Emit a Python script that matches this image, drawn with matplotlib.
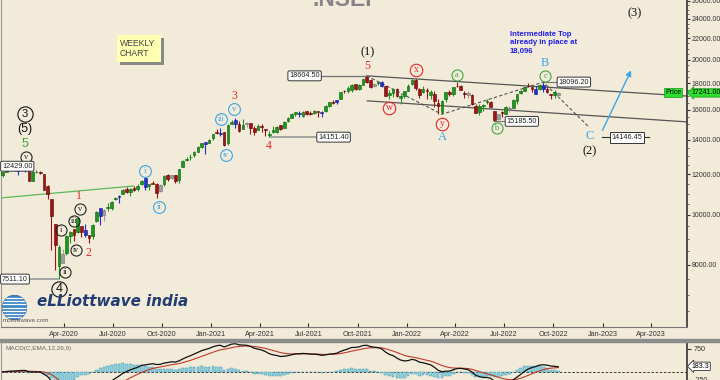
import matplotlib
matplotlib.use('Agg')
import matplotlib.pyplot as plt
import matplotlib.dates as mdates
import matplotlib.transforms as mtransforms
from matplotlib.patches import Rectangle, Circle
from matplotlib.ticker import FixedLocator, NullFormatter
import numpy as np
import pandas as pd

# weekly bars of .NSEI, first week starting 2019-12-09
first_week = '2019-12-09'
opens = [11934, 12132, 12235, 12247, 12170, 12296, 12384, 12198, 11627, 12102, 12131, 12013,
         11387, 10742, 9587, 7945, 8385, 8446, 9103, 9390, 9259, 9533, 9348, 9158, 9100,
         9726, 10326, 10014, 10318, 10311, 10723, 10851, 10999, 11225, 11065, 11270, 11248,
         11472, 11777, 11355, 11540, 11503, 11141, 11487, 11973, 11786, 11937, 11697, 12400,
         12780, 12960, 13062, 13264, 13547, 13865, 13815, 14104, 14474, 14371, 14477, 13758,
         14999, 15260, 15009, 14702, 15064, 15049, 14736, 14628, 14837, 14644, 14306, 14449,
         14481, 14928, 14756, 15211, 15437, 15725, 15791, 15525, 15915, 15794, 15766, 15877,
         15840, 15874, 16259, 16564, 16592, 16775, 17400, 17363, 17443, 17962, 17531, 17867,
         18500, 18229, 17783, 18040, 18141, 17796, 17055, 17209, 17529, 16824, 17000, 17388,
         17913, 18236, 17575, 17302, 17456, 17076, 17193, 16515, 15867, 16757, 17329, 17181,
         17809, 17741, 17183, 17202, 17097, 16227, 15845, 16290, 16578, 16570, 15877, 15335,
         15839, 15710, 16152, 16151, 16662, 17243, 17402, 17797, 17682, 17188, 17546, 17890,
         17541, 17157, 17102, 17094]
highs = [12098, 12294, 12287, 12311, 12337, 12390, 12429, 12212, 12160, 12247, 12159, 12013,
         11433, 10751, 9602, 8749, 8576, 9131, 9324, 9390, 9890, 9533, 9584, 9158, 9599,
         10177, 10328, 10272, 10554, 10631, 10847, 10933, 11225, 11341, 11256, 11374, 11460,
         11686, 11794, 11493, 11618, 11535, 11463, 11939, 12025, 11975, 11942, 12290, 12770,
         12963, 13145, 13280, 13579, 13773, 13866, 14024, 14367, 14654, 14754, 14491, 14976,
         15257, 15432, 15176, 15336, 15152, 15079, 14878, 14984, 14984, 14697, 14526, 14891,
         14863, 14967, 15189, 15469, 15733, 15835, 15901, 15915, 15928, 15915, 15962, 15881,
         15899, 16349, 16543, 16701, 16722, 17340, 17437, 17793, 17947, 17962, 17941, 18351,
         18604.5, 18310, 18012, 18123, 18210, 17805, 17489, 17640, 17640, 17119, 17400, 17944,
         18350, 18321, 17600, 17781, 17640, 17490, 17351, 16815, 16694, 17345, 17442, 17703,
         18115, 17842, 17415, 17400, 17132, 16404, 16400, 16414, 16793, 16610, 15886, 15707,
         15890, 16276, 16275, 16752, 17173, 17490, 17720, 17992, 17685, 17777, 17925, 18096.2,
         17723, 17176, 17428, 17280]
lows = [11833, 12113, 12180, 12171, 11974, 12253, 12087, 11634, 11614, 12037, 12003, 11175,
        10751, 8555, 7832, 7511.1, 8055, 8360, 8822, 8909, 9243, 9044, 9043, 8807, 8968,
        9706, 9544, 9728, 10194, 10223, 10675, 10562, 10993, 11026, 10882, 11112, 11144,
        11426, 11185, 11185, 11465, 10790, 11101, 11386, 11661, 11741, 11535, 11557, 12367,
        12730, 12790, 12962, 13215, 13501, 13132, 13765, 13954, 14357, 14222, 13597, 13662,
        14978, 14736, 14468, 14702, 14813, 14350, 14265, 14628, 14459, 14248, 14151.4, 14418,
        14416, 14592, 14756, 15158, 15437, 15566, 15450, 15505, 15636, 15632, 15707, 15514,
        15513, 15834, 16161, 16396, 16395, 16764, 17254, 17269, 17327, 17452, 17452, 17865,
        18034, 17614, 17697, 17836, 17688, 16985, 16782, 16892, 16966, 16410, 16833, 17383,
        17880, 17500, 16837, 17244, 16810, 16809, 16203, 15711, 15671, 16555, 17006, 17006,
        17662, 17442, 16824, 16888, 16340, 15735, 15601, 15903, 16444, 16172, 15185.5, 15296,
        15511, 15661, 15858, 16142, 16438, 17155, 17359, 17710, 17345, 17167, 17429, 17291,
        17237, 16748, 16855, 16950]
closes = [12087, 12272, 12246, 12227, 12257, 12352, 12248, 11662, 12098, 12113, 12081, 11202,
          10989, 9955, 8745, 8660, 8084, 9112, 9267, 9154, 9860, 9252, 9137, 9040, 9580,
          10142, 9973, 10244, 10383, 10608, 10768, 10902, 11194, 11073, 11214, 11178, 11372,
          11647, 11333, 11464, 11504, 11050, 11417, 11914, 11762, 11930, 11642, 12264, 12720,
          12859, 12969, 13258, 13514, 13761, 13749, 13982, 14347, 14434, 14372, 13635, 14924,
          15163, 14982, 14529, 14938, 15031, 14744, 14507, 14867, 14835, 14618, 14341, 14631,
          14823, 14678, 15175, 15436, 15670, 15799, 15683, 15860, 15722, 15690, 15924, 15856,
          15763, 16238, 16529, 16450, 16705, 17324, 17369, 17585, 17853, 17532, 17895, 18339,
          18115, 17672, 17917, 18103, 17765, 17027, 17197, 17512, 16986, 17004, 17354, 17813,
          18256, 17617, 17102, 17516, 17374, 17276, 16658, 16245, 16630, 17287, 17153, 17670,
          17784, 17476, 17172, 17103, 16411, 15782, 16266, 16353, 16584, 16202, 15294, 15699,
          15752, 16221, 16049, 16720, 17158, 17398, 17698, 17758, 17559, 17539, 17833, 17531,
          17327, 17094, 17315, 17241]

y_ticks = [8000, 10000, 12000, 14000, 16000, 18000, 20000, 22000, 24000, 26000]
date_ticks = ['2020-04-01', '2020-07-01', '2020-10-01', '2021-01-01', '2021-04-01', '2021-07-01',
              '2021-10-01', '2022-01-01', '2022-04-01', '2022-07-01', '2022-10-01', '2023-01-01',
              '2023-04-01']
macd_ticks = [750, -250]
macd_last = 183.3  # value shown on the MACD marker

BG = '#f3ebd9'
RED = '#e8262b'
BLUE = '#3aa6e6'
GREEN = '#3ea83e'
SERIF = 'Liberation Serif'
SANS = 'Liberation Sans'
plt.rcParams['font.family'] = SANS

dates = pd.date_range(first_week, periods=len(closes), freq='W-MON')
x = mdates.date2num(dates)
o, h, l, c = (np.array(v, dtype=float) for v in (opens, highs, lows, closes))

# bar colours: outside bars blue, inside bars grey, otherwise up/down
ph = np.r_[np.nan, h[:-1]]
pl = np.r_[np.nan, l[:-1]]
face, edge = [], []
for i in range(len(c)):
    if h[i] > ph[i] and l[i] < pl[i]:
        face.append('#2030d8'); edge.append('#101880')
    elif h[i] < ph[i] and l[i] > pl[i]:
        face.append('#a0a0a0'); edge.append('#707070')
    elif c[i] >= o[i]:
        face.append('#1a9a1a'); edge.append('#0a5a0a')
    else:
        face.append('#a01414'); edge.append('#5a0000')

fig = plt.figure(figsize=(7.2, 3.8), dpi=100, facecolor=BG)
ax = fig.add_axes([0.0014, 0.1395, 0.9528, 0.8605])
ax.set_facecolor(BG)
ax.set_yscale('log')
ax.set_ylim(6065, 26100)
xmin, xmax = mdates.datestr2num('2019-12-06'), mdates.datestr2num('2023-06-07')
ax.set_xlim(xmin, xmax)

ax.vlines(x, l, h, colors=face, lw=0.8, zorder=3)
body = np.maximum(np.abs(c - o), c * 0.0015)
ax.bar(x, body, bottom=np.minimum(o, c), width=5, color=face, edgecolor=edge, lw=0.4, zorder=4)

# axes styling
ax.yaxis.tick_right()
ax.yaxis.set_major_locator(FixedLocator(y_ticks))
ax.set_yticklabels([f'{v:.2f}' for v in y_ticks])
minor = [v for v in range(6500, 26001, 500) if v not in y_ticks]
ax.yaxis.set_minor_locator(FixedLocator(minor))
ax.yaxis.set_minor_formatter(NullFormatter())
ax.tick_params(axis='y', which='major', labelsize=5.0, colors='#333', length=2.5, pad=1)
ax.tick_params(axis='y', which='minor', length=1.5, colors='#555')
ax.xaxis.set_major_locator(FixedLocator([mdates.datestr2num(d) for d in date_ticks]))
ax.xaxis.set_major_formatter(mdates.DateFormatter('%b-%Y'))
ax.tick_params(axis='x', labelsize=5.2, colors='#333', direction='in', length=3, pad=3)
ax.spines['top'].set_visible(False)
ax.spines['left'].set_color('#999')
ax.spines['right'].set_color('#333')
ax.spines['right'].set_linewidth(1.2)
ax.spines['bottom'].set_color('#777')

D = mdates.datestr2num


def wave(date, price, txt, color, size, family=SERIF, ring=0, weight='normal'):
    if ring:
        ax.plot(D(date), price, marker='o', ms=ring, mfc='none', mec=color, mew=0.8, zorder=6)
    ax.text(D(date), price, txt, color=color, fontsize=size, ha='center', va='center',
            family=family, weight=weight, zorder=7)


def pbox(date, price, txt, ha='center'):
    ax.text(D(date), price, txt, fontsize=5.2, ha=ha, va='center', family=SANS, color='#222',
            bbox=dict(boxstyle='round,pad=0.2', fc='white', ec='#333', lw=0.7), zorder=8)


def seg(d0, p0, d1, p1, **kw):
    ax.plot([D(d0), D(d1)], [p0, p1], **kw)


# trend / channel lines
seg('2019-12-06', 10790, '2020-08-09', 11380, color='#5cb85c', lw=0.9, zorder=2)
seg('2021-10-18', max(highs), '2023-06-07', 17000, color='#555', lw=0.9, zorder=2)
seg('2021-10-19', 16640, '2023-06-07', 15150, color='#555', lw=0.9, zorder=2)
ax.plot([D('2021-10-18'), D('2022-03-07'), D('2022-09-12'), D('2022-12-06')],
        [max(highs), 15671, 18096.2, 14810], color='#555', lw=0.8, ls=(0, (3, 2)), zorder=2)

# price marker lines
seg('2020-01-25', min(lows), '2020-03-21', min(lows), color='#999', lw=1.2, zorder=2)
seg('2021-04-21', 14151.4, '2021-07-20', 14151.4, color='#999', lw=1.2, zorder=2)
seg('2021-07-21', max(highs), '2021-10-18', max(highs), color='#777', lw=1.0, zorder=2)
seg('2022-06-13', 15185.5, '2022-07-05', 15185.5, color='#777', lw=0.8, zorder=2)
seg('2022-09-12', 18096.2, '2022-10-11', 18096.2, color='#777', lw=0.8, zorder=2)
seg('2022-12-31', 14146.45, '2023-03-29', 14146.45, color='#333', lw=0.8, zorder=2)

pbox('2019-12-08', 12429, f'{max(h[:12]):.2f}', ha='left')
pbox('2019-12-08', min(lows), f'{min(lows):.2f}', ha='left')
pbox('2021-08-17', 14151.4, '14151.40')
pbox('2021-06-24', max(highs), f'{max(highs):.2f}')
pbox('2022-08-03', 15185.5, '15185.50')
pbox('2022-11-08', 18096.2, '18096.20')
ax.text(D('2023-02-15'), 14146.45, '14146.45', fontsize=5.2, ha='center', va='center',
        family=SANS, color='#222',
        bbox=dict(boxstyle='square,pad=0.25', fc='white', ec='#333', lw=0.7), zorder=8)

# Elliott wave labels
wave('2020-01-19', 15700, '3', '#111', 8, family=SANS, ring=11)
wave('2020-01-19', 14680, '(5)', '#111', 9, family=SANS)
wave('2020-01-19', 13730, '5', GREEN, 9, family=SANS)
wave('2020-01-21', 12960, 'v', '#222', 6, ring=8)
wave('2020-04-29', 10885, '1', RED, 8.5)
wave('2020-03-26', 9350, 'i', '#222', 6, ring=8)
wave('2020-04-03', 7750, 'ii', '#222', 6, ring=8)
wave('2020-04-20', 9740, 'iii', '#222', 5.5, ring=8)
wave('2020-04-23', 8550, 'iv', '#222', 5.5, ring=8)
wave('2020-05-01', 10270, 'v', '#222', 6, ring=8)
wave('2020-05-17', 8440, '2', RED, 8.5)
wave('2020-03-23', 7190, '4', '#111', 9, family=SANS, ring=11)
wave('2020-08-31', 12170, 'i', BLUE, 6, ring=8.5)
wave('2020-09-25', 10360, 'ii', BLUE, 6, ring=8.5)
wave('2021-01-20', 15350, 'iii', BLUE, 5.5, ring=8.5)
wave('2021-01-28', 13070, 'iv', BLUE, 5.5, ring=8.5)
wave('2021-02-13', 16050, 'v', BLUE, 6, ring=8.5)
wave('2021-02-13', 17010, '3', RED, 8.5)
wave('2021-04-19', 13610, '4', RED, 8.5)
wave('2021-10-19', 20700, '(1)', '#111', 9)
wave('2021-10-18', 19450, '5', RED, 8.5)
wave('2022-01-18', 19100, 'x', RED, 7, ring=9)
wave('2021-11-29', 16120, 'w', RED, 7, ring=9)
wave('2022-03-07', 15010, 'y', RED, 7, ring=9)
wave('2022-03-07', 14170, 'A', BLUE, 9)
wave('2022-04-04', 18680, 'a', GREEN, 6, ring=8)
wave('2022-06-17', 14750, 'b', GREEN, 6, ring=8)
wave('2022-09-16', 18600, 'c', GREEN, 6, ring=8)
wave('2022-09-15', 19710, 'B', BLUE, 9)
wave('2022-12-08', 14230, 'C', BLUE, 9)
wave('2022-12-07', 13310, '(2)', '#111', 9)
wave('2023-03-01', 24640, '(3)', '#111', 9)

ax.annotate('', xy=(D('2023-02-25'), 19280), xytext=(D('2022-12-29'), 14420),
            arrowprops=dict(arrowstyle='-|>', color=BLUE, lw=1, mutation_scale=8), zorder=6)

ax.text(D('2022-07-12'), 22740, 'Intermediate Top\nalready in place at\n18,096', color='#2020e8',
        fontsize=5.6, weight='bold', family=SANS, ha='left', va='top', linespacing=1.25)

# weekly chart note
ax.add_patch(Rectangle((0.1728, 0.801), 0.0641, 0.083, transform=ax.transAxes, fc='#8a8a8a', ec='none', zorder=5))
ax.add_patch(Rectangle((0.1688, 0.810), 0.0641, 0.083, transform=ax.transAxes, fc='#ffffb2', ec='none', zorder=6))
ax.text(0.1735, 0.868, 'WEEKLY', transform=ax.transAxes, fontsize=6.2, color='#444', family=SANS, va='center', zorder=7)
ax.text(0.1735, 0.835, 'CHART', transform=ax.transAxes, fontsize=6.2, color='#444', family=SANS, va='center', zorder=7)

# last price markers
bt = mtransforms.blended_transform_factory(ax.transAxes, ax.transData)
ax.text(0.9796, c[-1], 'Price', transform=bt, fontsize=5, ha='center', va='center', family=SANS,
        bbox=dict(boxstyle='square,pad=0.15', fc='#2ee02e', ec='#119911', lw=0.5), zorder=9)
ax.text(1.007, c[-1], f'{c[-1]:.2f}', transform=bt, fontsize=5.0, ha='left', va='center', family=SANS,
        clip_on=False, bbox=dict(boxstyle='larrow,pad=0.1', fc='#2ee02e', ec='#119911', lw=0.5), zorder=9)

# title and branding
fig.text(0.476, 1 - 6 / 380, '.NSEI', fontsize=16.5, weight='bold', color='#858585', family=SANS,
         ha='center', va='baseline')
fig.text(37 / 720, 1 - 306 / 380, 'eLLiottwave india', fontsize=10.9, weight='bold', style='italic',
         color='#223d72', family='DejaVu Sans', ha='left', va='baseline')
fig.text(3 / 720, 1 - 321 / 380, 'motivewave.com', fontsize=4.5, color='#555', family=SANS, va='center')
gl = fig.add_axes([2 / 720, 1 - 320 / 380, 25 / 720, 25 / 380])
gl.set_xlim(-1, 1)
gl.set_ylim(-1, 1)
gl.set_aspect('equal')
gl.axis('off')
disc = Circle((0, 0), 0.98, fc='#3d86c8', ec='#2a5f9a', lw=0.5)
gl.add_patch(disc)
for yy in np.linspace(-0.75, 0.75, 7):
    ln, = gl.plot([-1, 1], [yy, yy], color='white', lw=0.9)
    ln.set_clip_path(disc)

# separator
fig.add_artist(Rectangle((0, 1 - 342 / 380), 1, 3 / 380, transform=fig.transFigure, color='#8c8c8c'))

# MACD panel
cs = pd.Series(c)
macd = cs.ewm(span=12, adjust=False).mean() - cs.ewm(span=26, adjust=False).mean()
signal = macd.ewm(span=9, adjust=False).mean()
hist = macd - signal

ax2 = fig.add_axes([0.0014, 0.0, 0.9528, 1 - 343 / 380])
ax2.set_facecolor(BG)
ax2.set_xlim(xmin, xmax)
ax2.set_ylim(-262, 940)
ax2.bar(x, hist, width=5, color='#8fd3de', edgecolor='#3a8fb0', lw=0.3, zorder=2)
ax2.axhline(0, color='#222', lw=0.6, ls=(0, (3, 2)), zorder=1)
ax2.plot(x, signal, color='#c0392b', lw=0.8, zorder=3)
ax2.plot(x, macd, color='#111', lw=0.9, zorder=4)
ax2.yaxis.tick_right()
ax2.yaxis.set_major_locator(FixedLocator(macd_ticks))
ax2.set_yticklabels([str(v) for v in macd_ticks])
ax2.tick_params(axis='y', labelsize=5.2, colors='#333', length=3, pad=1.5)
ax2.set_xticks([])
for s in ('top', 'bottom'):
    ax2.spines[s].set_visible(False)
ax2.spines['left'].set_color('#999')
ax2.spines['right'].set_color('#333')
ax2.spines['right'].set_linewidth(1.2)
ax2.text(0.006, 0.86, 'MACD(C,EMA,12,26,9)', transform=ax2.transAxes, fontsize=4.6, color='#666',
         family=SANS, va='center')
bt2 = mtransforms.blended_transform_factory(ax2.transAxes, ax2.transData)
ax2.text(1.007, macd_last, f'{macd_last:.1f}', transform=bt2, fontsize=5.0, ha='left',
         va='center', family=SANS, clip_on=False,
         bbox=dict(boxstyle='larrow,pad=0.1', fc='white', ec='#333', lw=0.6), zorder=9)

fig.savefig('out.png', dpi=100, facecolor=BG)
